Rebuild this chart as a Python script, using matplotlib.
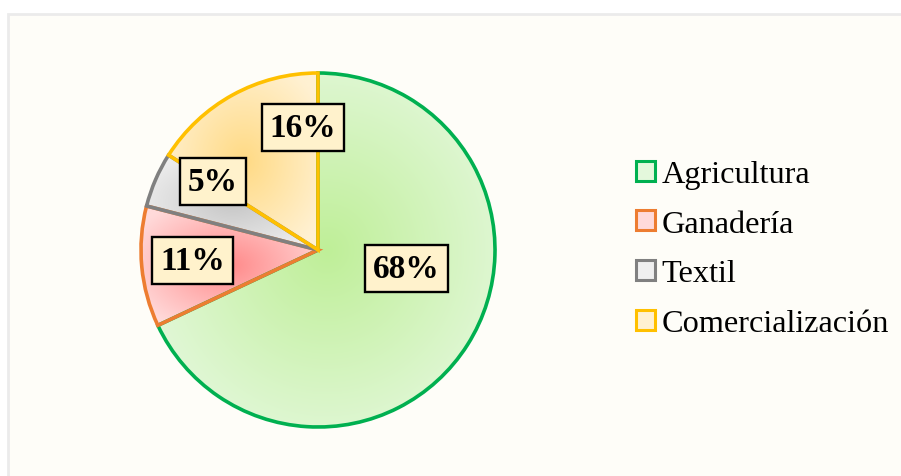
import numpy as np
import matplotlib
matplotlib.use("Agg")
import matplotlib.pyplot as plt
from matplotlib.patches import Rectangle, Patch
from matplotlib.colors import to_rgb

# ---- data ----
categories = ["Agricultura", "Ganadería", "Textil", "Comercialización"]
values = [68, 11, 5, 16]
pct_labels = ["68%", "11%", "5%", "16%"]

# ---- style ----
edge_colors = ["#00B050", "#ED7D31", "#808080", "#FFC000"]
grad_center = ["#BFEF98", "#FF8A8A", "#C6C6C6", "#FFDA84"]
grad_edge = ["#E4F8DC", "#FFDADA", "#EFEFEF", "#FFF1D2"]
# label placement (radius fraction, angle in degrees) - layout only
label_layout = [(0.51, -12), (0.71, 185), (0.71, 147), (0.70, 97)]

W, H, DPI = 901, 477, 100
fig = plt.figure(figsize=(W / DPI, H / DPI), dpi=DPI, facecolor="white")

# chart area background with light border
bg = Rectangle((8 / W, -0.05), 1.1, (H - 15) / H + 0.05, transform=fig.transFigure,
               facecolor="#FEFDF8", edgecolor="#EBEBEB", linewidth=2.0, zorder=-10)
fig.patches.append(bg)

# axes positioned so the pie (radius 1) is 177 px, centered at (318, 251)
R = 177.0
cx, cy = 318.0, 251.0
half = 1.2 * R
ax = fig.add_axes([(cx - half) / W, (H - cy - half) / H, 2 * half / W, 2 * half / H])
ax.set_facecolor("none")

wedges, _ = ax.pie(values, startangle=90, counterclock=False, radius=1,
                   wedgeprops=dict(linewidth=2.6, facecolor="none"))
ax.set_xlim(-1.2, 1.2)
ax.set_ylim(-1.2, 1.2)
ax.set_aspect("equal")
ax.axis("off")

n = 500
xs = np.linspace(-1.2, 1.2, n)
ys = np.linspace(-1.2, 1.2, n)
X, Y = np.meshgrid(xs, ys)
for w, ec, c0, c1 in zip(wedges, edge_colors, grad_center, grad_edge):
    w.set_edgecolor(ec)
    w.set_facecolor("none")
    w.set_zorder(2)
    verts = w.get_path().vertices
    xmin, ymin = verts.min(axis=0)
    xmax, ymax = verts.max(axis=0)
    bx, by = (xmin + xmax) / 2, (ymin + ymax) / 2
    hw, hh = (xmax - xmin) / 2, (ymax - ymin) / 2
    d = np.sqrt(((X - bx) / hw) ** 2 + ((Y - by) / hh) ** 2) / 1.2
    d = np.clip(d, 0, 1)[..., None]
    img = np.array(to_rgb(c0)) * (1 - d) + np.array(to_rgb(c1)) * d
    im = ax.imshow(img, extent=(-1.2, 1.2, -1.2, 1.2), origin="lower",
                   interpolation="bilinear", zorder=1)
    im.set_clip_path(w)

for lab, (rf, ang) in zip(pct_labels, label_layout):
    t = np.deg2rad(ang)
    ax.text(rf * np.cos(t), rf * np.sin(t), lab, ha="center", va="center",
            fontsize=24, fontweight="bold", family="Liberation Serif", zorder=5,
            bbox=dict(boxstyle="square,pad=0.24", facecolor="#FFF2CC",
                      edgecolor="black", linewidth=1.7))

handles = [Patch(facecolor=c0, edgecolor=ec, linewidth=2.2)
           for c0, ec in zip(grad_edge, edge_colors)]
leg = fig.legend(handles, categories, loc="center left",
                 bbox_to_anchor=(636 / W, (H - 250) / H),
                 frameon=False, borderpad=0, borderaxespad=0,
                 handlelength=0.58, handleheight=0.58, handletextpad=0.2,
                 labelspacing=0.64,
                 prop=dict(family="Liberation Serif", size=23.2))

fig.savefig("out.png", dpi=DPI, facecolor="white")
